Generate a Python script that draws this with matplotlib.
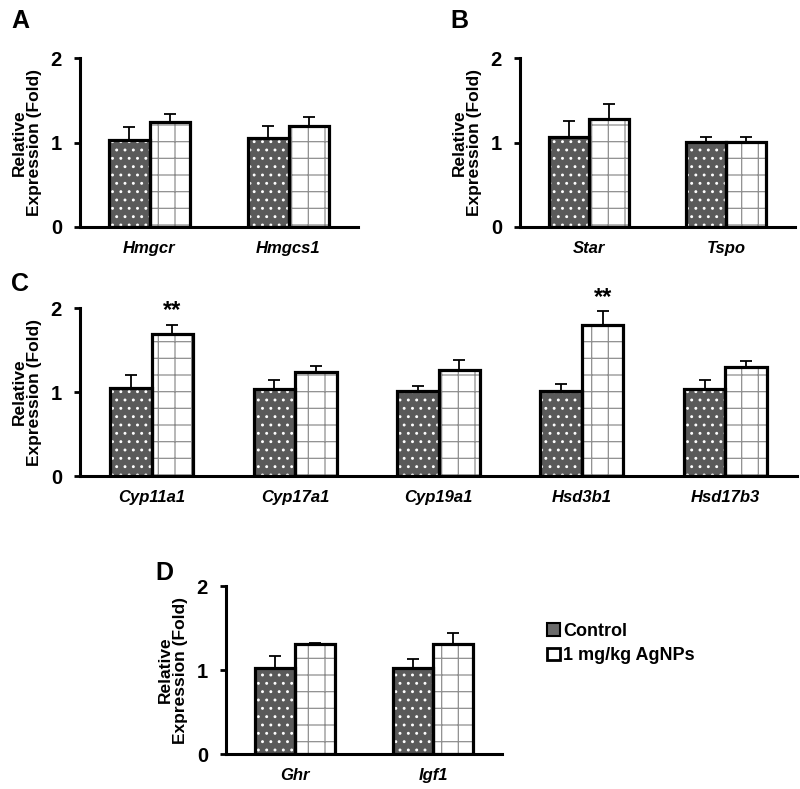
import numpy as np
import matplotlib
matplotlib.use("Agg")
import matplotlib.pyplot as plt
from matplotlib.patches import Patch

plt.rcParams["font.family"] = ["Liberation Sans", "DejaVu Sans"]
plt.rcParams["font.weight"] = "bold"
plt.rcParams["hatch.linewidth"] = 0.9

# panel A
genes_a = ["Hmgcr", "Hmgcs1"]
ctrl_a = [1.03, 1.05]
ctrl_a_err = [0.15, 0.14]
agnp_a = [1.24, 1.19]
agnp_a_err = [0.10, 0.11]

# panel B
genes_b = ["Star", "Tspo"]
ctrl_b = [1.07, 1.01]
ctrl_b_err = [0.18, 0.05]
agnp_b = [1.28, 1.01]
agnp_b_err = [0.17, 0.05]

# panel C
genes_c = ["Cyp11a1", "Cyp17a1", "Cyp19a1", "Hsd3b1", "Hsd17b3"]
ctrl_c = [1.05, 1.03, 1.01, 1.01, 1.03]
ctrl_c_err = [0.15, 0.11, 0.06, 0.09, 0.11]
agnp_c = [1.69, 1.24, 1.26, 1.80, 1.30]
agnp_c_err = [0.11, 0.07, 0.12, 0.16, 0.07]
sig_c = ["**", "", "", "**", ""]

# panel D
genes_d = ["Ghr", "Igf1"]
ctrl_d = [1.02, 1.02]
ctrl_d_err = [0.15, 0.11]
agnp_d = [1.31, 1.31]
agnp_d_err = [0.01, 0.13]

W, H = 800, 789
fig = plt.figure(figsize=(W / 100, H / 100), dpi=100)


def px_axes(x0, y0, x1, y1):
    # pixel box (top-left origin) -> figure axes
    return fig.add_axes([x0 / W, 1 - y1 / H, (x1 - x0) / W, (y1 - y0) / H])


def draw_panel(ax, genes, ctrl, ctrl_err, agnp, agnp_err, sig=None):
    x = np.arange(len(genes))
    w = 0.29
    xc = x - w / 2
    xt = x + w / 2
    # fills with patterns
    ax.bar(xc, ctrl, w, color="#5a5a5a", hatch="..", edgecolor="white", linewidth=0, zorder=2)
    ax.bar(xt, agnp, w, color="white", hatch="+", edgecolor="#8f8f8f", linewidth=0, zorder=2)
    # outlines
    ax.bar(xc, ctrl, w, fill=False, edgecolor="black", linewidth=2.3, zorder=3)
    ax.bar(xt, agnp, w, fill=False, edgecolor="black", linewidth=2.3, zorder=3)
    zeros = np.zeros(len(genes))
    ax.errorbar(xc, ctrl, yerr=[zeros, ctrl_err], fmt="none", ecolor="black",
                elinewidth=1.3, capsize=4, capthick=1.3, zorder=1)
    ax.errorbar(xt, agnp, yerr=[zeros, agnp_err], fmt="none", ecolor="black",
                elinewidth=1.3, capsize=4, capthick=1.3, zorder=1)
    if sig is not None:
        for xi, v, e, s in zip(xt, agnp, agnp_err, sig):
            if s:
                ax.text(xi, v + e + 0.03, s, ha="center", va="bottom",
                        fontsize=17, fontweight="bold")
    ax.set_xlim(-0.5, len(genes) - 0.5)
    ax.set_ylim(0, 2)
    ax.set_yticks([0, 1, 2])
    ax.set_xticks(x)
    ax.set_xticklabels(genes, fontsize=12, fontweight="bold", fontstyle="italic")
    ax.tick_params(axis="x", length=0, pad=10)
    ax.tick_params(axis="y", length=4, width=2, pad=9, labelsize=14.5)
    for sp in ["top", "right"]:
        ax.spines[sp].set_visible(False)
    for sp in ["left", "bottom"]:
        ax.spines[sp].set_linewidth(2.2)
    ax.set_ylabel("Relative\nExpression (Fold)", fontsize=12.5, fontweight="bold",
                  linespacing=1.0, labelpad=6)


ax_a = px_axes(80, 58, 358, 227)
draw_panel(ax_a, genes_a, ctrl_a, ctrl_a_err, agnp_a, agnp_a_err)
ax_b = px_axes(520, 58, 795, 227)
draw_panel(ax_b, genes_b, ctrl_b, ctrl_b_err, agnp_b, agnp_b_err)
ax_c = px_axes(80, 308, 797, 476)
draw_panel(ax_c, genes_c, ctrl_c, ctrl_c_err, agnp_c, agnp_c_err, sig_c)
ax_d = px_axes(226, 586, 502, 754)
draw_panel(ax_d, genes_d, ctrl_d, ctrl_d_err, agnp_d, agnp_d_err)

for lab, (px, py) in zip("ABCD", [(11, 21), (450, 21), (11, 284), (155, 573)]):
    fig.text(px / W, 1 - py / H, lab, fontsize=18, fontweight="bold", va="center", ha="left")

handles = [Patch(facecolor="#6a6a6a", edgecolor="black", linewidth=1.5),
           Patch(facecolor="white", edgecolor="black", linewidth=2)]
fig.legend(handles, ["Control", "1 mg/kg AgNPs"], loc="upper left",
           bbox_to_anchor=(547 / W, 1 - 623 / H), frameon=False,
           handlelength=0.7, handleheight=0.7,
           handletextpad=0.2, labelspacing=0.4, borderpad=0, borderaxespad=0,
           prop={"weight": "bold", "size": 13})

fig.savefig("out.png", dpi=100)
